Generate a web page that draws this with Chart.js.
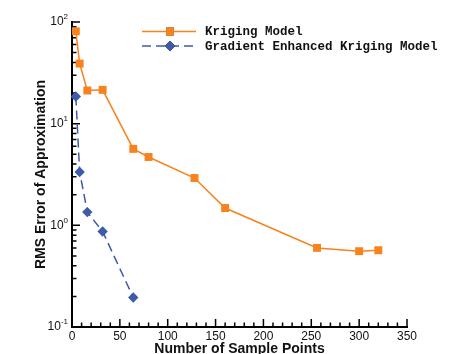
<!DOCTYPE html>
<html>
<head>
<meta charset="utf-8">
<script src="https://cdn.jsdelivr.net/npm/chart.js@4/dist/chart.umd.min.js"></script>
<style>
  body { margin: 0; background: #fff; }
  #wrap { width: 475px; height: 354px; }
</style>
</head>
<body>
<div id="wrap"><canvas id="myChart"></canvas></div>
<script>
// data
var krigX = [4, 8, 16, 32, 64, 80, 128, 160, 256, 300, 320];
var krigY = [81, 39, 21.2, 21.5, 5.65, 4.7, 2.92, 1.48, 0.6, 0.557, 0.569];
var gekX = [4, 8, 16, 32, 64];
var gekY = [18.5, 3.35, 1.35, 0.87, 0.195];
var seriesNames = ["Kriging Model", "Gradient Enhanced Kriging Model"];
var yTickExps = [-1, 0, 1, 2];
var xTicks = [0, 50, 100, 150, 200, 250, 300, 350];

var orange = "#f7821e";
var blue = "#3e5ba9";

function pts(xs, ys) {
  return xs.map(function (x, i) { return { x: x, y: ys[i] }; });
}

// inside ticks + y labels with exponents + legend
var decor = {
  id: 'decor',
  beforeDatasetsDraw: function (chart) {
    var ctx = chart.ctx, xs = chart.scales.x, ys = chart.scales.y;
    var a = chart.chartArea;
    ctx.save();
    ctx.strokeStyle = "#000";
    ctx.lineWidth = 1.5;
    ctx.beginPath();
    // y ticks
    for (var e = yTickExps[0]; e <= yTickExps[yTickExps.length - 1]; e++) {
      var p = ys.getPixelForValue(Math.pow(10, e));
      ctx.moveTo(a.left, p); ctx.lineTo(a.left + 8, p);
      if (e < yTickExps[yTickExps.length - 1]) {
        for (var m = 2; m <= 9; m++) {
          var q = ys.getPixelForValue(m * Math.pow(10, e));
          ctx.moveTo(a.left, q); ctx.lineTo(a.left + 4.5, q);
        }
      }
    }
    // x ticks
    for (var v = 0; v <= 350; v += 10) {
      var px = xs.getPixelForValue(v);
      var len = (v % 50 === 0) ? 8 : 4.5;
      ctx.moveTo(px, a.bottom); ctx.lineTo(px, a.bottom - len);
    }
    ctx.stroke();
    ctx.restore();
  },
  afterDraw: function (chart) {
    var ctx = chart.ctx, ys = chart.scales.y;
    var a = chart.chartArea;
    ctx.save();
    ctx.fillStyle = "#111";
    ctx.textBaseline = "middle";
    yTickExps.forEach(function (e) {
      var p = ys.getPixelForValue(Math.pow(10, e));
      var ex = String(e);
      ctx.font = "8px 'Liberation Sans'";
      var ew = ctx.measureText(ex).width;
      ctx.textAlign = "right";
      ctx.fillText(ex, a.left - 4, p - 5);
      ctx.font = "12px 'Liberation Sans'";
      ctx.fillText("10", a.left - 4 - ew, p);
    });

    // legend
    var rows = [31.5, 46];
    chart.data.datasets.forEach(function (ds, i) {
      var y = rows[i];
      ctx.save();
      ctx.strokeStyle = ds.borderColor;
      ctx.lineWidth = ds.borderWidth;
      ctx.setLineDash(ds.borderDash || []);
      ctx.beginPath();
      ctx.moveTo(142, y); ctx.lineTo(196, y);
      ctx.stroke();
      ctx.restore();
      Chart.helpers.drawPoint(ctx, {
        pointStyle: ds.pointStyle, radius: ds.pointRadius, rotation: 0, borderWidth: 0
      }, 170, y);
      ctx.fillStyle = ds.backgroundColor;
      ctx.fill();
      ctx.fillStyle = "#111";
      ctx.font = "bold 12.5px 'Liberation Mono'";
      ctx.textAlign = "left";
      ctx.fillText(ds.label, 205, y + 0.5);
    });
    ctx.restore();
  }
};

new Chart("myChart", {
  type: "line",
  data: {
    datasets: [{
      label: seriesNames[0],
      data: pts(krigX, krigY),
      borderColor: orange,
      backgroundColor: orange,
      borderWidth: 1.5,
      pointStyle: "rect",
      pointRadius: 5.6,
      pointBorderWidth: 0,
      clip: false
    }, {
      label: seriesNames[1],
      data: pts(gekX, gekY),
      borderColor: blue,
      backgroundColor: blue,
      borderWidth: 1.5,
      borderDash: [9, 5],
      pointStyle: "rectRot",
      pointRadius: 5.2,
      pointBorderWidth: 0,
      clip: false
    }]
  },
  options: {
    responsive: true,
    maintainAspectRatio: false,
    animation: false,
    layout: { padding: { top: 22, right: 68, left: 0, bottom: 0 } },
    plugins: { legend: { display: false }, tooltip: { enabled: false } },
    scales: {
      x: {
        type: "linear",
        min: 0,
        max: 350,
        afterBuildTicks: function (s) { s.ticks = xTicks.map(function (v) { return { value: v }; }); },
        afterFit: function (s) { s.height = 27; },
        grid: { display: false, drawTicks: false },
        border: { display: true, color: "#000", width: 2 },
        ticks: { color: "#111", font: { family: "Liberation Sans", size: 12 }, padding: 2, maxRotation: 0 },
        title: {
          display: true, text: "Number of Sample Points", color: "#111",
          font: { family: "Liberation Sans", size: 14, weight: "bold" },
          padding: { top: 0, bottom: -4 }
        }
      },
      y: {
        type: "logarithmic",
        min: 0.1,
        max: 100,
        afterFit: function (s) { s.width = 72; },
        grid: { display: false, drawTicks: false },
        border: { display: true, color: "#000", width: 2 },
        ticks: { display: false },
        title: {
          display: true, text: "RMS Error of Approximation", color: "#111",
          font: { family: "Liberation Sans", size: 14, weight: "bold" },
          padding: { top: 33, bottom: 0 }
        }
      }
    }
  },
  plugins: [decor]
});
</script>
</body>
</html>
